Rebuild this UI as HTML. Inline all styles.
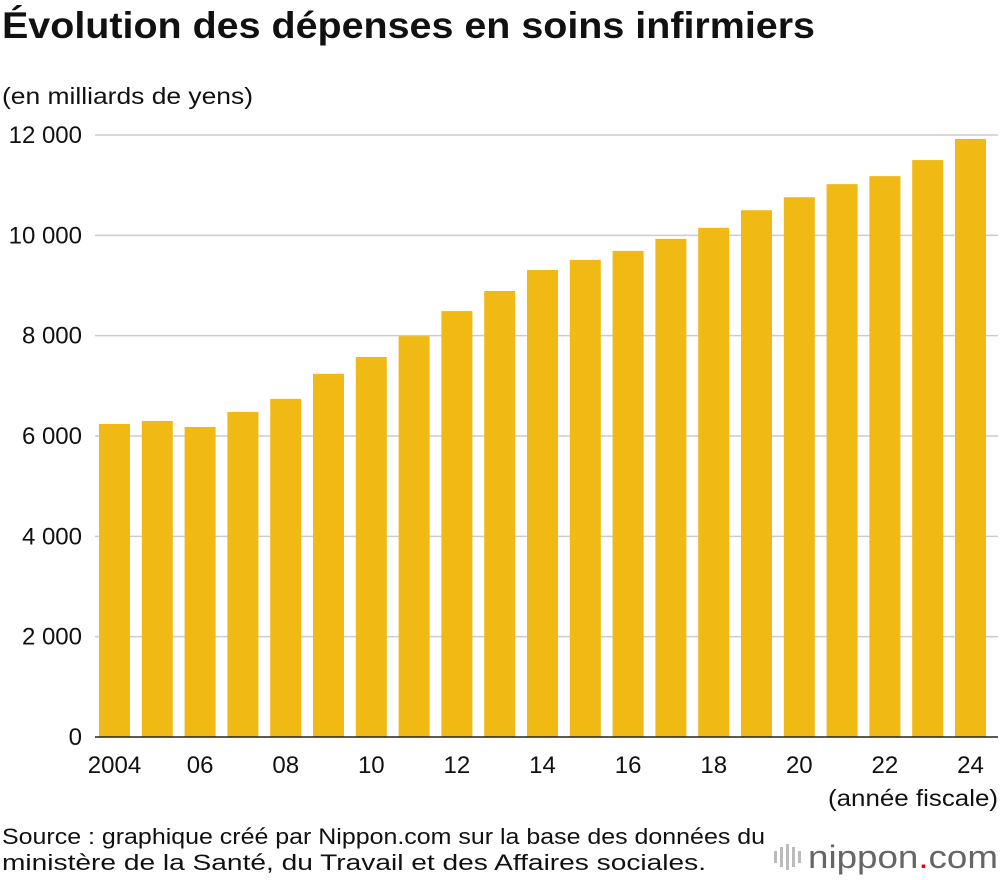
<!DOCTYPE html>
<html><head><meta charset="utf-8"><style>
body{margin:0;width:1000px;height:880px;background:#fff;font-family:"Liberation Sans",sans-serif;overflow:hidden}
svg{position:absolute;left:0;top:0}
</style></head><body>
<svg width="1000" height="880">
<text x="2" y="38" font-size="37" font-weight="bold" fill="#111" textLength="813" lengthAdjust="spacingAndGlyphs">Évolution des dépenses en soins infirmiers</text>
<text x="2" y="104" font-size="23" fill="#111" textLength="251" lengthAdjust="spacingAndGlyphs">(en milliards de yens)</text>
<g id="grid"></g>
<g id="bars"></g>
<g id="xt"></g>
<text x="998" y="806" font-size="23" text-anchor="end" fill="#111" textLength="170" lengthAdjust="spacingAndGlyphs">(année fiscale)</text>
<text x="2" y="844" font-size="22" fill="#111" textLength="763" lengthAdjust="spacingAndGlyphs">Source : graphique créé par Nippon.com sur la base des données du</text>
<text x="2" y="870" font-size="22" fill="#111" textLength="704" lengthAdjust="spacingAndGlyphs">ministère de la Santé, du Travail et des Affaires sociales.</text>
<g>
<rect x="774" y="851" width="3" height="12" fill="#bbb"/><rect x="780" y="847" width="3" height="20" fill="#bbb"/><rect x="786" y="844" width="3" height="26" fill="#bbb"/><rect x="792" y="847" width="3" height="20" fill="#bbb"/><rect x="798" y="851" width="3" height="12" fill="#bbb"/>
<text x="808" y="868" font-size="32" fill="#666" textLength="190" lengthAdjust="spacingAndGlyphs">nippon<tspan fill="#e60012">.</tspan>com</text>
</g>
<line x1="95" y1="737" x2="998" y2="737" stroke="#222" stroke-width="1.5"/>
</svg>
<script>
const years=[2004,2005,2006,2007,2008,2009,2010,2011,2012,2013,2014,2015,2016,2017,2018,2019,2020,2021,2022,2023,2024];
const values=[6240,6300,6180,6480,6740,7240,7575,7990,8490,8890,9310,9510,9690,9930,10150,10500,10760,11020,11180,11500,11920];
const yTicks=[0,2000,4000,6000,8000,10000,12000];
const yTickLabels=["0","2 000","4 000","6 000","8 000","10 000","12 000"];
const xTickLabels={2004:"2004",2006:"06",2008:"08",2010:"10",2012:"12",2014:"14",2016:"16",2018:"18",2020:"20",2022:"22",2024:"24"};
const NS="http://www.w3.org/2000/svg";
const y=v=>737-v*(602/12000);
const x=i=>99+i*42.8;
const bw=31;
function mk(t,a,p){const e=document.createElementNS(NS,t);for(const k in a)e.setAttribute(k,a[k]);p.appendChild(e);return e;}
const g=document.getElementById('grid');
yTicks.forEach((v,i)=>{
 if(v>0){const l=mk('line',{x1:95,x2:998,y1:y(v),y2:y(v),stroke:'#ccc','stroke-width':1.5},g);
 
 }
 const t=mk('text',{x:82,y:y(v)+8,'font-size':24,'text-anchor':'end',fill:'#111'},g);
 t.textContent=yTickLabels[i];
 
 
});
const b=document.getElementById('bars');
values.forEach((v,i)=>{
 const r=mk('rect',{x:x(i),y:y(v),width:bw,height:y(0)-y(v),fill:'#f0b913'},b);
 
 
});
const xt=document.getElementById('xt');
years.forEach((yr,i)=>{
 if(!(yr in xTickLabels))return;
 const t=mk('text',{x:x(i)+bw/2,y:773,'font-size':24,'text-anchor':'middle',fill:'#111'},xt);
 t.textContent=xTickLabels[yr];
 
 
});
</script>
</body></html>
